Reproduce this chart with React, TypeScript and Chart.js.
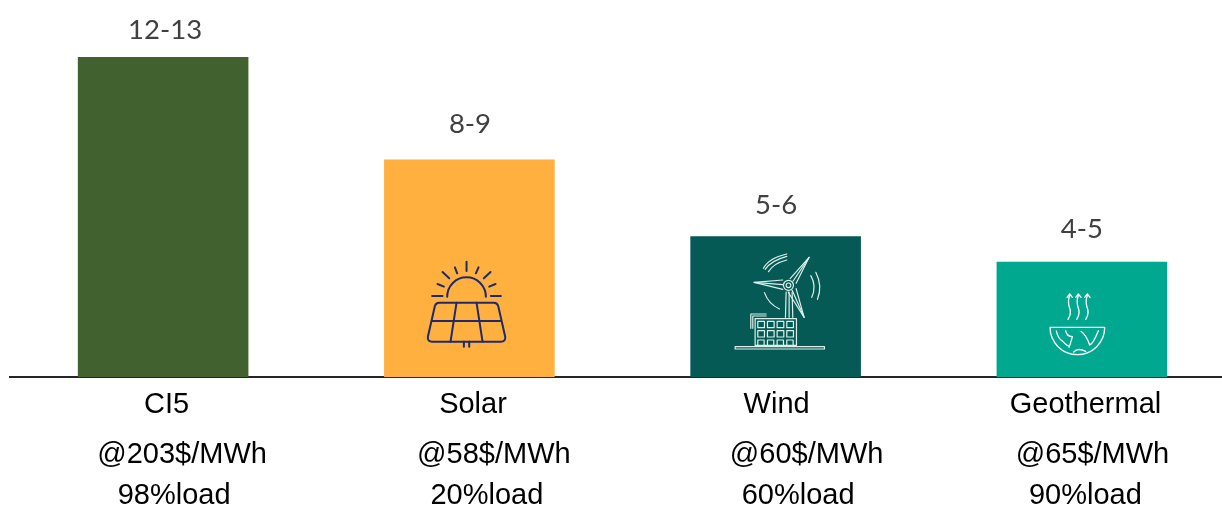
import React, { useEffect, useRef } from "react";
import { Chart, registerables } from "chart.js";

Chart.register(...registerables);

const categories = ["CI5", "Solar", "Wind", "Geothermal"];
// Midpoint of each stated range
const midpoints = [12.5, 8.5, 5.5, 4.5];
const rangeLabels = ["12-13", "8-9", "5-6", "4-5"];
const prices = ["@203$/MWh", "@58$/MWh", "@60$/MWh", "@65$/MWh"];
const loads = ["98%load", "20%load", "60%load", "90%load"];
const barColors = ["#41612E", "#FFB03F", "#055A55", "#00A88F"];

const FONT = '"Liberation Sans", Arial, sans-serif';
const RANGE_FONT = 'Lato, "Liberation Sans", sans-serif';
const GAP_ABOVE_BAR = [26.5, 35, 31, 32.5];
const RANGE_DX = [2, 0.6, 0.4, 0];
const NAME_DX = [3.5, 3.6, 1, 3.6];
const PRICE_DX = [19, 24.5, 31, 10.6];
const LOAD_DX = [11, 17.5, 22.5, 3.5];

type Ctx = CanvasRenderingContext2D;

function line(ctx: Ctx, pts: number[]) {
  ctx.beginPath();
  ctx.moveTo(pts[0], pts[1]);
  for (let i = 2; i < pts.length; i += 2) ctx.lineTo(pts[i], pts[i + 1]);
  ctx.stroke();
}

function curve(ctx: Ctx, pts: number[]) {
  ctx.beginPath();
  ctx.moveTo(pts[0], pts[1]);
  for (let i = 2; i < pts.length; i += 4) {
    ctx.quadraticCurveTo(pts[i], pts[i + 1], pts[i + 2], pts[i + 3]);
  }
  ctx.stroke();
}

// Solar panel under a rising sun; drawn on a 3x local grid
function solarIcon(ctx: Ctx) {
  ctx.strokeStyle = "#1F2A6E";
  ctx.lineWidth = 6;
  ctx.lineCap = "round";
  ctx.lineJoin = "round";
  ctx.beginPath();
  ctx.arc(200, 170, 58, Math.PI, 2 * Math.PI);
  ctx.stroke();
  [
    [200, 65, 200, 93],
    [165, 82, 172, 100],
    [236, 82, 228, 100],
    [128, 96, 148, 115],
    [272, 96, 252, 115],
    [113, 132, 132, 140],
    [287, 132, 268, 140],
    [97, 168, 128, 168],
    [273, 168, 303, 168],
    [97, 243, 303, 243],
    [170, 188, 152, 305],
    [230, 188, 248, 305],
    [192, 305, 192, 320],
    [208, 305, 208, 320],
  ].forEach((s) => line(ctx, s));
  ctx.beginPath();
  ctx.moveTo(118, 188);
  ctx.lineTo(282, 188);
  ctx.quadraticCurveTo(292, 188, 295, 198);
  ctx.lineTo(316, 290);
  ctx.quadraticCurveTo(318, 305, 303, 305);
  ctx.lineTo(97, 305);
  ctx.quadraticCurveTo(82, 305, 84, 290);
  ctx.lineTo(105, 198);
  ctx.quadraticCurveTo(108, 188, 118, 188);
  ctx.closePath();
  ctx.stroke();
}

// Wind turbine behind a small building, in thin outline strokes
function windIcon(ctx: Ctx) {
  ctx.strokeStyle = "#DDEFEA";
  ctx.lineWidth = 3.6;
  ctx.lineCap = "round";
  ctx.lineJoin = "round";
  const blades = [
    [327, 82, 270, 146, 288, 160],
    [162, 157, 248, 150, 248, 178],
    [312, 262, 264, 186, 288, 176],
  ];
  blades.forEach(([tx, ty, ax, ay, bx, by]) => {
    line(ctx, [ax, ay, tx, ty, bx, by]);
    line(ctx, [(ax + bx) / 2, (ay + by) / 2, tx, ty]);
  });
  ctx.beginPath();
  ctx.arc(265, 166, 15, 0, 2 * Math.PI);
  ctx.stroke();
  ctx.beginPath();
  ctx.arc(265, 166, 7, 0, 2 * Math.PI);
  ctx.stroke();
  line(ctx, [258, 186, 256, 262]);
  line(ctx, [267, 186, 267, 262]);
  line(ctx, [276, 186, 278, 262]);
  curve(ctx, [190, 115, 205, 85, 260, 72]);
  curve(ctx, [195, 118, 212, 92, 260, 79]);
  curve(ctx, [205, 125, 220, 100, 260, 90]);
  curve(ctx, [193, 188, 205, 222, 238, 237]);
  curve(ctx, [347, 127, 368, 168, 352, 208]);
  curve(ctx, [332, 137, 350, 168, 335, 202]);
  // Building with a grid of windows
  ctx.strokeRect(165, 266, 124, 80);
  line(ctx, [152, 295, 152, 252, 198, 252]);
  line(ctx, [158, 295, 158, 258, 198, 258]);
  for (let r = 0; r < 3; r++) {
    for (let c = 0; c < 4; c++) {
      if (r === 2) {
        line(ctx, [173 + c * 29, 346, 173 + c * 29, 330, 192 + c * 29, 330, 192 + c * 29, 346]);
      } else {
        ctx.strokeRect(173 + c * 29, 274 + r * 28, 20, 19);
      }
    }
  }
  ctx.strokeRect(105, 350, 268, 7);
}

// Half globe with three rising heat arrows
function geothermalIcon(ctx: Ctx) {
  ctx.strokeStyle = "#FFFFFF";
  ctx.lineWidth = 4;
  ctx.lineCap = "round";
  ctx.lineJoin = "round";
  ctx.beginPath();
  ctx.moveTo(89, 172);
  ctx.lineTo(253, 172);
  ctx.arc(171, 172, 82, 0, Math.PI);
  ctx.closePath();
  ctx.stroke();
  [147, 173, 200].forEach((x) => {
    curve(ctx, [x - 4, 148, x + 8, 130, x, 112, x - 6, 95, x + 1, 76]);
    line(ctx, [x - 7, 82, x + 1, 72, x + 9, 82]);
  });
  curve(ctx, [108, 183, 112, 205, 128, 215, 140, 228, 145, 228]);
  curve(ctx, [136, 183, 140, 200, 156, 200, 150, 222, 146, 232]);
  curve(ctx, [182, 184, 198, 196, 208, 225, 218, 222, 234, 182]);
  curve(ctx, [160, 246, 172, 232, 196, 244]);
}

const icons: Record<string, { draw: (c: Ctx) => void; dx: number; dy: number }> = {
  Solar: { draw: solarIcon, dx: -69.5, dy: -137 },
  Wind: { draw: windIcon, dx: -75.5, dy: -147 },
  Geothermal: { draw: geothermalIcon, dx: -61.5, dy: -107 },
};

const annotations = {
  id: "annotations",
  afterDatasetsDraw(chart: Chart) {
    const { ctx } = chart;
    const bars = chart.getDatasetMeta(0).data as any[];
    ctx.save();
    ctx.textAlign = "center";
    ctx.textBaseline = "middle";
    bars.forEach((bar, i) => {
      const base = chart.scales.y.getPixelForValue(0);

      ctx.font = `27.5px ${RANGE_FONT}`;
      ctx.fillStyle = "#404040";
      ctx.fillText(rangeLabels[i], bar.x + RANGE_DX[i], bar.y - GAP_ABOVE_BAR[i]);

      ctx.font = `29px ${FONT}`;
      ctx.fillStyle = "#000000";
      ctx.fillText(categories[i], bar.x + NAME_DX[i], base + 27.5);
      ctx.fillText(prices[i], bar.x + PRICE_DX[i], base + 77.5);
      ctx.fillText(loads[i], bar.x + LOAD_DX[i], base + 118.5);

      const icon = icons[categories[i]];
      if (icon) {
        ctx.save();
        ctx.translate(bar.x + icon.dx, base + icon.dy);
        ctx.scale(1 / 3, 1 / 3);
        icon.draw(ctx);
        ctx.restore();
      }
    });
    ctx.restore();
  },
};

export default function App() {
  const ref = useRef<HTMLCanvasElement>(null);

  useEffect(() => {
    const chart = new Chart(ref.current!, {
      type: "bar",
      data: {
        labels: categories,
        datasets: [
          {
            data: midpoints,
            backgroundColor: barColors,
            barPercentage: 0.557,
            categoryPercentage: 1,
          },
        ],
      },
      options: {
        responsive: false,
        animation: false,
        layout: { padding: { left: 10, right: 0, top: 18.6, bottom: 0 } },
        plugins: { legend: { display: false }, tooltip: { enabled: false } },
        scales: {
          x: {
            grid: { display: false, drawTicks: false },
            border: { color: "#262626", width: 2 },
            ticks: { display: false },
            afterFit(scale: any) {
              scale.height = 128;
            },
          },
          y: { display: false, min: 0, max: 14 },
        },
      },
      plugins: [annotations],
    });
    return () => chart.destroy();
  }, []);

  return (
    <div style={{ position: "absolute", left: 0, top: 0, width: 1222, height: 505, overflow: "hidden", background: "#fff" }}>
      {/* The last category runs past the right edge of the page, so the canvas does too */}
      <canvas ref={ref} width={1235} height={505} style={{ display: "block" }} />
    </div>
  );
}
